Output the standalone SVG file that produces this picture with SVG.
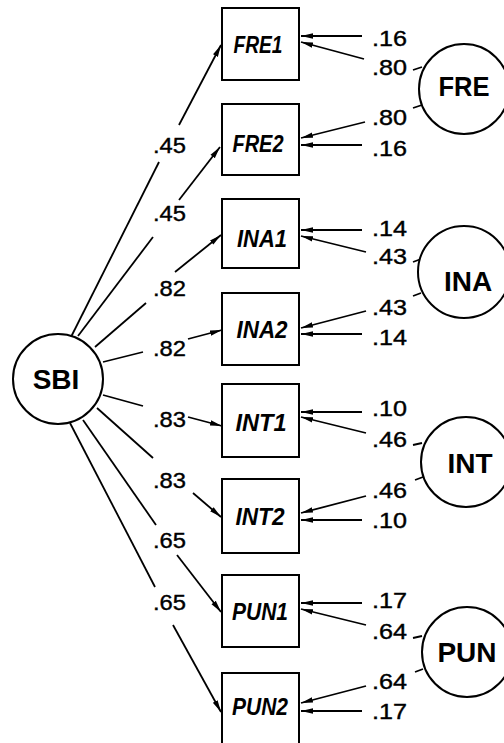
<svg xmlns="http://www.w3.org/2000/svg" width="504" height="743" viewBox="0 0 504 743">
<style>
.box{fill:#fff;stroke:#000;stroke-width:2}
.lat{fill:#fff;stroke:#000;stroke-width:2}
.ln{stroke:#000;stroke-width:1.8;fill:none}
.ar{stroke:#000;stroke-width:1.8;fill:none;marker-end:url(#ah)}
.obs{font-family:"Liberation Sans",Arial,sans-serif;font-size:23px;font-style:italic;font-weight:bold;text-anchor:middle}
.num{font-family:"Liberation Sans",Arial,sans-serif;font-size:22px;stroke:#000;stroke-width:0.4}
.big{font-family:"Liberation Sans",Arial,sans-serif;font-size:28px;font-weight:bold;text-anchor:middle}
</style>
<defs>
<marker id="ah" markerUnits="userSpaceOnUse" markerWidth="13" markerHeight="7" refX="12" refY="3.5" orient="auto">
<path d="M0,0.8 L12,3.5 L0,6.2 z" fill="#000"/>
</marker>
</defs>
<rect width="504" height="743" fill="#fff"/>

<g id="connectors">
<line class="ln" x1="71" y1="337" x2="159" y2="162"/>
<line class="ar" x1="179" y1="125" x2="221" y2="45"/>
<line class="ln" x1="78" y1="336" x2="153" y2="237"/>
<line class="ar" x1="179" y1="200" x2="220" y2="147"/>
<line class="ln" x1="95" y1="347" x2="146" y2="303"/>
<line class="ar" x1="175" y1="272" x2="221" y2="235"/>
<line class="ln" x1="103" y1="362" x2="143" y2="352"/>
<line class="ar" x1="188" y1="339" x2="222" y2="330"/>
<line class="ln" x1="103" y1="395" x2="143" y2="406"/>
<line class="ar" x1="188" y1="417" x2="222" y2="426"/>
<line class="ln" x1="97" y1="408" x2="153" y2="458"/>
<line class="ar" x1="193" y1="493" x2="221" y2="517"/>
<line class="ln" x1="83" y1="420" x2="156" y2="525"/>
<line class="ar" x1="177" y1="555" x2="221" y2="612"/>
<line class="ln" x1="70" y1="423" x2="155" y2="587"/>
<line class="ar" x1="173" y1="625" x2="221" y2="712"/>
<line class="ar" x1="362" y1="36" x2="301" y2="36"/>
<line class="ar" x1="364" y1="59" x2="301" y2="42"/>
<line class="ar" x1="365" y1="122" x2="301" y2="138"/>
<line class="ar" x1="362" y1="145" x2="301" y2="145"/>
<line class="ar" x1="362" y1="230" x2="301" y2="230"/>
<line class="ar" x1="366" y1="252" x2="301" y2="236"/>
<line class="ar" x1="366" y1="311" x2="301" y2="328"/>
<line class="ar" x1="362" y1="334" x2="301" y2="334"/>
<line class="ar" x1="362" y1="412" x2="301" y2="412"/>
<line class="ar" x1="366" y1="433" x2="301" y2="417"/>
<line class="ar" x1="366" y1="496" x2="301" y2="513"/>
<line class="ar" x1="362" y1="520" x2="301" y2="520"/>
<line class="ar" x1="362" y1="603" x2="301" y2="603"/>
<line class="ar" x1="366" y1="625" x2="301" y2="609"/>
<line class="ar" x1="366" y1="686" x2="301" y2="703"/>
<line class="ar" x1="362" y1="711" x2="301" y2="711"/>
<line class="ln" x1="413" y1="70" x2="422" y2="67"/>
<line class="ln" x1="413" y1="108" x2="422" y2="105"/>
<line class="ln" x1="413" y1="262" x2="421" y2="259"/>
<line class="ln" x1="413" y1="296" x2="421" y2="293"/>
<line class="ln" x1="413" y1="445" x2="422" y2="443"/>
<line class="ln" x1="415" y1="480" x2="423" y2="477"/>
<line class="ln" x1="413" y1="638" x2="422" y2="636"/>
<line class="ln" x1="415" y1="672" x2="423" y2="669"/>
</g>

<g id="labels-left">
<text class="num" x="153" y="153" textLength="33" lengthAdjust="spacingAndGlyphs">.45</text>
<text class="num" x="153" y="221" textLength="33" lengthAdjust="spacingAndGlyphs">.45</text>
<text class="num" x="153" y="296" textLength="33" lengthAdjust="spacingAndGlyphs">.82</text>
<text class="num" x="153" y="356" textLength="33" lengthAdjust="spacingAndGlyphs">.82</text>
<text class="num" x="153" y="427" textLength="33" lengthAdjust="spacingAndGlyphs">.83</text>
<text class="num" x="153" y="488" textLength="33" lengthAdjust="spacingAndGlyphs">.83</text>
<text class="num" x="153" y="548" textLength="33" lengthAdjust="spacingAndGlyphs">.65</text>
<text class="num" x="153" y="610" textLength="33" lengthAdjust="spacingAndGlyphs">.65</text>
</g>

<g id="labels-right">
<text class="num" x="372" y="46" textLength="35" lengthAdjust="spacingAndGlyphs">.16</text>
<text class="num" x="372" y="75" textLength="35" lengthAdjust="spacingAndGlyphs">.80</text>
<text class="num" x="372" y="125" textLength="35" lengthAdjust="spacingAndGlyphs">.80</text>
<text class="num" x="372" y="156" textLength="35" lengthAdjust="spacingAndGlyphs">.16</text>
<text class="num" x="372" y="236" textLength="35" lengthAdjust="spacingAndGlyphs">.14</text>
<text class="num" x="372" y="264" textLength="35" lengthAdjust="spacingAndGlyphs">.43</text>
<text class="num" x="372" y="315" textLength="35" lengthAdjust="spacingAndGlyphs">.43</text>
<text class="num" x="372" y="345" textLength="35" lengthAdjust="spacingAndGlyphs">.14</text>
<text class="num" x="372" y="416" textLength="35" lengthAdjust="spacingAndGlyphs">.10</text>
<text class="num" x="372" y="447" textLength="35" lengthAdjust="spacingAndGlyphs">.46</text>
<text class="num" x="372" y="498" textLength="35" lengthAdjust="spacingAndGlyphs">.46</text>
<text class="num" x="372" y="528" textLength="35" lengthAdjust="spacingAndGlyphs">.10</text>
<text class="num" x="372" y="608" textLength="35" lengthAdjust="spacingAndGlyphs">.17</text>
<text class="num" x="372" y="639" textLength="35" lengthAdjust="spacingAndGlyphs">.64</text>
<text class="num" x="372" y="689" textLength="35" lengthAdjust="spacingAndGlyphs">.64</text>
<text class="num" x="372" y="719" textLength="35" lengthAdjust="spacingAndGlyphs">.17</text>
</g>

<g id="SBI"><circle class="lat" cx="58" cy="379" r="45"/><text class="big" x="56" y="389">SBI</text></g>

<g id="FRE1"><rect class="box" x="222" y="8" width="77" height="72"/><text class="obs" x="258" y="53" textLength="49" lengthAdjust="spacingAndGlyphs">FRE1</text></g>
<g id="FRE2"><rect class="box" x="222" y="104" width="77" height="71"/><text class="obs" x="258" y="152" textLength="51" lengthAdjust="spacingAndGlyphs">FRE2</text></g>
<g id="INA1"><rect class="box" x="222" y="199" width="77" height="69"/><text class="obs" x="262" y="247" textLength="50" lengthAdjust="spacingAndGlyphs">INA1</text></g>
<g id="INA2"><rect class="box" x="222" y="293" width="77" height="72"/><text class="obs" x="262" y="338" textLength="51" lengthAdjust="spacingAndGlyphs">INA2</text></g>
<g id="INT1"><rect class="box" x="222" y="384" width="77" height="73"/><text class="obs" x="261" y="431" textLength="51" lengthAdjust="spacingAndGlyphs">INT1</text></g>
<g id="INT2"><rect class="box" x="222" y="479" width="77" height="74"/><text class="obs" x="260" y="525" textLength="49" lengthAdjust="spacingAndGlyphs">INT2</text></g>
<g id="PUN1"><rect class="box" x="222" y="575" width="77" height="72"/><text class="obs" x="260" y="620" textLength="56" lengthAdjust="spacingAndGlyphs">PUN1</text></g>
<g id="PUN2"><rect class="box" x="222" y="673" width="77" height="73"/><text class="obs" x="260" y="715" textLength="56" lengthAdjust="spacingAndGlyphs">PUN2</text></g>

<g id="FRE"><circle class="lat" cx="464" cy="89" r="45"/><text class="big" x="464" y="96" textLength="51" lengthAdjust="spacingAndGlyphs">FRE</text></g>
<g id="INA"><circle class="lat" cx="464" cy="272" r="46"/><text class="big" x="468" y="291">INA</text></g>
<g id="INT"><circle class="lat" cx="466" cy="462" r="45"/><text class="big" x="470" y="473">INT</text></g>
<g id="PUN"><circle class="lat" cx="467" cy="652" r="45"/><text class="big" x="467" y="662">PUN</text></g>
</svg>
